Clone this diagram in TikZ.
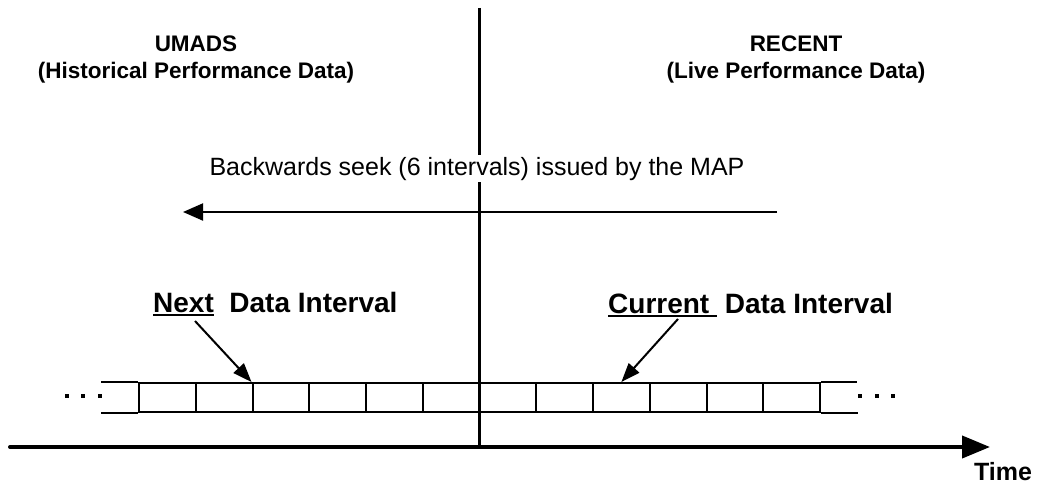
\documentclass[tikz,border=0pt]{standalone}
\usepackage{fontspec}
\setmainfont{Liberation Sans}
\usetikzlibrary{arrows.meta}
\newcommand\myul[1]{\leavevmode\setbox0\hbox{#1}\rlap{\rule[-3.5pt]{\wd0}{1.6pt}}\box0}
\tikzset{
  title/.style={font=\fontsize{22.5}{26}\selectfont\bfseries, anchor=base, inner sep=0pt},
  lbl/.style={font=\fontsize{28}{32}\selectfont\bfseries, anchor=base west, inner sep=0pt},
  cell/.style={draw, line width=2pt, minimum width=56.75pt, minimum height=29pt, inner sep=0pt},
  pointer/.style={line width=2pt, -{Triangle[length=19pt,width=14pt]}},
  stub/.style={line width=2pt},
  dot/.style={fill=black, inner sep=0pt, minimum size=3.6pt, rectangle}
}
\begin{document}
\begin{tikzpicture}[x=1pt,y=-1pt]
\useasboundingbox (0,0) rectangle (1042,487);
% titles
\node[title] (t1a) at (196,52) {UMADS};
\node[title] (t1b) at (196,78) {(Historical Performance Data)};
\node[title] (t2a) at (796,52) {RECENT};
\node[title] (t2b) at (796,78) {(Live Performance Data)};
% divider
\coordinate (dtop) at (479,8);
\coordinate (dbot) at (479,447);
\draw[line width=3pt] (dtop) -- (dbot);
% seek arrow
\coordinate (seekstart) at (777,212);
\coordinate (seekend) at (183,212);
\draw[line width=2pt, -{Triangle[length=20pt,width=17pt]}] (seekstart) -- (seekend);
\node[font=\fontsize{25}{29}\selectfont, anchor=base, fill=white, inner sep=2pt] (seek) at (477,175) {Backwards seek (6 intervals) issued by the MAP};
% cells
\foreach \i in {1,...,12} {
  \node[cell] (b\i) at ({139+56.75*(\i-0.5)},397.5) {};
}
% stubs
\draw[stub] (b1.north west) -- ++(-37,0);
\draw[stub] (b1.south west) -- ++(-37,0);
\draw[stub] (b12.north east) -- ++(36,0);
\draw[stub] (b12.south east) -- ++(37,0);
% dots
\node[dot] (l1) at (67,396) {};
\node[dot] (l2) at (83,396) {};
\node[dot] (l3) at (100,396) {};
\node[dot] (r1) at (860,396) {};
\node[dot] (r2) at (877,396) {};
\node[dot] (r3) at (893,396) {};
% labels
\node[lbl] (next) at (153,312) {\myul{Next}\ \ Data Interval};
\node[lbl] (cur) at (608,313) {\myul{Current\ }\ Data Interval};
\coordinate (nextfoot) at (195,321);
\coordinate (curfoot) at (678,319);
\draw[pointer] (nextfoot) -- (b3.north west);
\draw[pointer] (curfoot) -- (b9.north);
% time axis
\coordinate (tstart) at (10,447);
\coordinate (tend) at (990,447);
\draw[line width=4pt, line cap=round, -{Triangle[length=28pt,width=22pt]}] (tstart) -- (tend);
\node[font=\fontsize{25}{29}\selectfont\bfseries, anchor=base, inner sep=0pt] (time) at (1003,480) {Time};
\end{tikzpicture}
\end{document}
